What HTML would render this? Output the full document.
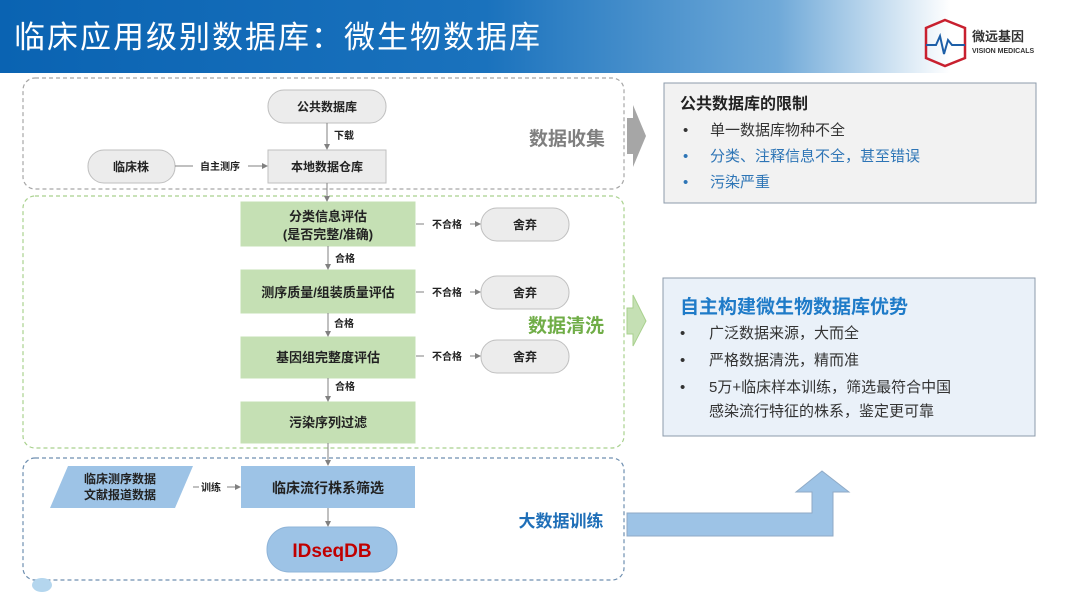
<!DOCTYPE html>
<html><head><meta charset="utf-8"><style>
html,body{margin:0;padding:0;background:#fff;}
body{width:1080px;height:608px;overflow:hidden;position:relative;font-family:"Liberation Sans","Noto Sans CJK SC",sans-serif;}
svg text{font-family:"Liberation Sans","Noto Sans CJK SC",sans-serif;}
</style></head><body>
<svg width="1080" height="608" viewBox="0 0 1080 608" xmlns="http://www.w3.org/2000/svg">
<defs>
<linearGradient id="hd" x1="0" y1="0" x2="1" y2="0">
<stop offset="0" stop-color="#0a63b2"/><stop offset="0.45" stop-color="#1a72bd"/><stop offset="0.72" stop-color="#6fa9d8"/><stop offset="0.88" stop-color="#ffffff"/><stop offset="1" stop-color="#ffffff"/>
</linearGradient>
<marker id="ar" markerWidth="6" markerHeight="6" refX="5" refY="3" orient="auto"><path d="M0,0 L6,3 L0,6 z" fill="#808080"/></marker>
</defs>
<rect x="0" y="0" width="1080" height="73" fill="url(#hd)"/>
<text x="14" y="48" font-size="31" fill="#fff" letter-spacing="2">临床应用级别数据库：微生物数据库</text>
<!-- logo -->
<path d="M945 20 L965 28 L965 58 L945 66 L926 58 L926 28 Z" fill="none" stroke="#c8202f" stroke-width="2.5"/>
<path d="M926 45 L936 45 L940 36 L944 54 L948 40 L952 45 L965 45" fill="none" stroke="#1d5fa8" stroke-width="2"/>
<text x="972" y="41" font-size="13" font-weight="bold" fill="#333">微远基因</text>
<text x="972" y="53" font-size="7" font-weight="bold" fill="#333">VISION MEDICALS</text>

<!-- dashed regions -->
<rect x="23" y="78" width="601" height="111" rx="12" fill="none" stroke="#a6a6a6" stroke-dasharray="4,3" stroke-width="1.2"/>
<rect x="23" y="196" width="601" height="252" rx="12" fill="none" stroke="#a9d18e" stroke-dasharray="4,3" stroke-width="1.2"/>
<rect x="23" y="458" width="601" height="122" rx="12" fill="none" stroke="#6f8fb0" stroke-dasharray="4,3" stroke-width="1.2"/>

<!-- collection -->
<rect x="268" y="90" width="118" height="33" rx="16" fill="#ececec" stroke="#bfbfbf"/>
<text x="327" y="111" font-size="12" font-weight="bold" text-anchor="middle" fill="#222">公共数据库</text>
<line x1="327" y1="123" x2="327" y2="149" stroke="#808080" marker-end="url(#ar)"/>
<text x="334" y="139" font-size="10" font-weight="bold" fill="#222">下载</text>
<rect x="268" y="150" width="118" height="33" fill="#ececec" stroke="#bfbfbf"/>
<text x="327" y="171" font-size="12" font-weight="bold" text-anchor="middle" fill="#222">本地数据仓库</text>
<rect x="88" y="150" width="87" height="33" rx="16" fill="#ececec" stroke="#bfbfbf"/>
<text x="131" y="171" font-size="12" font-weight="bold" text-anchor="middle" fill="#222">临床株</text>
<line x1="175" y1="166" x2="193" y2="166" stroke="#808080"/>
<text x="220" y="170" font-size="10" font-weight="bold" text-anchor="middle" fill="#222">自主测序</text>
<line x1="248" y1="166" x2="267" y2="166" stroke="#808080" marker-end="url(#ar)"/>
<text x="567" y="145" font-size="19" font-weight="bold" text-anchor="middle" fill="#7f7f7f">数据收集</text>
<line x1="327" y1="183" x2="327" y2="201" stroke="#808080" marker-end="url(#ar)"/>

<!-- cleaning -->
<g fill="#c5e0b4" stroke="#c5e0b4">
<rect x="241" y="202" width="174" height="44"/>
<rect x="241" y="270" width="174" height="43"/>
<rect x="241" y="337" width="174" height="41"/>
<rect x="241" y="402" width="174" height="41"/>
</g>
<g font-size="13" font-weight="bold" text-anchor="middle" fill="#222">
<text x="328" y="221">分类信息评估</text>
<text x="328" y="239">(是否完整/准确)</text>
<text x="328" y="297">测序质量/组装质量评估</text>
<text x="328" y="362">基因组完整度评估</text>
<text x="328" y="427">污染序列过滤</text>
</g>
<g stroke="#808080">
<line x1="328" y1="246" x2="328" y2="269" marker-end="url(#ar)"/>
<line x1="328" y1="313" x2="328" y2="336" marker-end="url(#ar)"/>
<line x1="328" y1="378" x2="328" y2="401" marker-end="url(#ar)"/>
<line x1="328" y1="443" x2="328" y2="465" marker-end="url(#ar)"/>
</g>
<g font-size="10" font-weight="bold" fill="#222">
<text x="335" y="262">合格</text><text x="334" y="327">合格</text><text x="335" y="390">合格</text>
</g>
<g>
<rect x="481" y="208" width="88" height="33" rx="16" fill="#ececec" stroke="#bfbfbf"/>
<rect x="481" y="276" width="88" height="33" rx="16" fill="#ececec" stroke="#bfbfbf"/>
<rect x="481" y="340" width="88" height="33" rx="16" fill="#ececec" stroke="#bfbfbf"/>
</g>
<g font-size="12" font-weight="bold" text-anchor="middle" fill="#222">
<text x="525" y="229">舍弃</text><text x="525" y="297">舍弃</text><text x="525" y="361">舍弃</text>
</g>
<g stroke="#808080">
<line x1="416" y1="224" x2="424" y2="224"/><line x1="470" y1="224" x2="480" y2="224" marker-end="url(#ar)"/>
<line x1="416" y1="292" x2="424" y2="292"/><line x1="470" y1="292" x2="480" y2="292" marker-end="url(#ar)"/>
<line x1="416" y1="356" x2="424" y2="356"/><line x1="470" y1="356" x2="480" y2="356" marker-end="url(#ar)"/>
</g>
<g font-size="10" font-weight="bold" fill="#222" text-anchor="middle">
<text x="447" y="228">不合格</text><text x="447" y="296">不合格</text><text x="447" y="360">不合格</text>
</g>
<text x="566" y="332" font-size="19" font-weight="bold" text-anchor="middle" fill="#70ad47">数据清洗</text>

<!-- training -->
<rect x="241" y="466" width="174" height="42" fill="#9dc3e6"/>
<text x="328" y="493" font-size="14" font-weight="bold" text-anchor="middle" fill="#222">临床流行株系筛选</text>
<polygon points="68,466 193,466 175,508 50,508" fill="#9dc3e6"/>
<text x="120" y="483" font-size="12" font-weight="bold" text-anchor="middle" fill="#222">临床测序数据</text>
<text x="120" y="499" font-size="12" font-weight="bold" text-anchor="middle" fill="#222">文献报道数据</text>
<line x1="193" y1="487" x2="199" y2="487" stroke="#808080"/>
<text x="211" y="491" font-size="10" font-weight="bold" text-anchor="middle" fill="#222">训练</text>
<line x1="227" y1="487" x2="240" y2="487" stroke="#808080" marker-end="url(#ar)"/>
<line x1="328" y1="508" x2="328" y2="526" stroke="#808080" marker-end="url(#ar)"/>
<rect x="267" y="527" width="130" height="45" rx="22" fill="#9dc3e6" stroke="#8fb4d8"/>
<text x="332" y="557" font-size="19" font-weight="bold" text-anchor="middle" fill="#c00000">IDseqDB</text>
<text x="561" y="527" font-size="17" font-weight="bold" text-anchor="middle" fill="#1f6fb8">大数据训练</text>
<ellipse cx="42" cy="585" rx="10" ry="7" fill="#b4d6ee"/>

<!-- side arrows -->
<polygon points="627,118 633,118 633,105 646,136 633,167 633,154 627,154" fill="#a6a6a6"/>
<polygon points="627,308 633,308 633,295 646,321 633,346 633,334 627,334" fill="#c5e0b4" stroke="#a9d18e"/>
<polygon points="627,513 812,513 812,492 796,492 822,471 849,492 833,492 833,536 627,536" fill="#9dc3e6" stroke="#8faac6"/>

<!-- right boxes -->
<rect x="664" y="83" width="372" height="120" fill="#f2f2f2" stroke="#8c9bab"/>
<text x="680" y="109" font-size="16" font-weight="bold" fill="#222">公共数据库的限制</text>
<g font-size="15">
<text x="683" y="135" fill="#333">•</text><text x="710" y="135" fill="#333">单一数据库物种不全</text>
<text x="683" y="161" fill="#2e75b6">•</text><text x="710" y="161" fill="#2e75b6">分类、注释信息不全，甚至错误</text>
<text x="683" y="187" fill="#2e75b6">•</text><text x="710" y="187" fill="#2e75b6">污染严重</text>
</g>
<rect x="663" y="278" width="372" height="158" fill="#eaf1f9" stroke="#8c9bab"/>
<text x="680" y="313" font-size="19" font-weight="bold" fill="#1f7bc8">自主构建微生物数据库优势</text>
<g font-size="15" fill="#333">
<text x="680" y="338">•</text><text x="709" y="338">广泛数据来源，大而全</text>
<text x="680" y="365">•</text><text x="709" y="365">严格数据清洗，精而准</text>
<text x="680" y="392">•</text><text x="709" y="392">5万+临床样本训练，筛选最符合中国</text>
<text x="709" y="416">感染流行特征的株系，鉴定更可靠</text>
</g>
</svg>
</body></html>
